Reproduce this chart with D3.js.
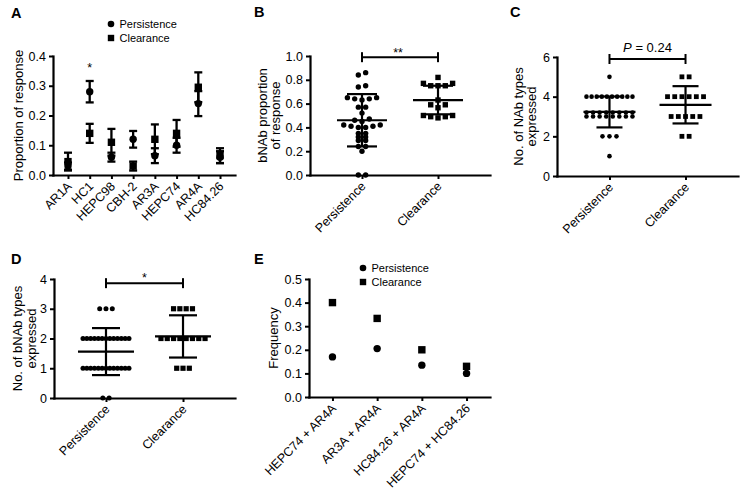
<!DOCTYPE html>
<html><head><meta charset="utf-8">
<script src="https://cdn.jsdelivr.net/npm/d3@7"></script>
<style>
body{margin:0;background:#fff}
svg text{font-family:"Liberation Sans",Arial,Helvetica,sans-serif;fill:#000}
</style>
</head><body>
<svg id="c" width="747" height="502"></svg>
<script>
// ---------- DATA ----------
// Panel A
const aEpitopes = ["AR1A","HC1","HEPC98","CBH-2","AR3A","HEPC74","AR4A","HC84.26"];
const aPersistMean = [0.03,0.28,0.06,0.12,0.065,0.10,0.24,0.06];
const aPersistErr  = [0.012,0.036,0.015,0.028,0.025,0.025,0.042,0.02];
const aClearMean   = [0.045,0.14,0.11,0.03,0.12,0.14,0.295,0.065];
const aClearErr    = [0.03,0.032,0.045,0.015,0.05,0.045,0.05,0.025];
const aSig         = ["","*","","","","","",""];
const aTicks = [0,0.1,0.2,0.3,0.4];

// Panel B
const groups = ["Persistence","Clearance"];
const bPersist = [0,0,0.20,0.24,0.24,0.29,0.29,0.32,0.32,0.35,0.35,0.40,0.41,0.42,0.40,0.42,0.41,
                  0.46,0.47,0.45,0.52,0.57,0.57,0.64,0.65,0.63,0.65,0.64,0.74,0.75,0.84,0.86];
const bClear = [0.48,0.49,0.49,0.50,0.50,0.565,0.59,0.59,0.63,0.75,0.75,0.75,0.77,0.77,0.82];
const bMean = [0.46,0.63];
const bSD = [0.22,0.12];
const bTicks = [0,0.2,0.4,0.6,0.8,1.0];
const bBracket = 0.99, bSigText = "**";

// Panel C
const cPersist = [5,4,4,4,4,4,4,4,4,4,4,3,3,3,3,3,3,3,3,3,3,3,3,3,3,3,3,2,2,2,1];
const cClear = [5,5,4,4,4,4,4,4,3,3,3,3,3,2,2];
const cMean = [3.23,3.59];
const cSD = [0.78,0.94];
const cTicks = [0,2,4,6];
const cBracket = 5.9, cPValue = "0.24";

// Panel D
const dPersist = [3,3,3,2,2,2,2,2,2,2,2,2,2,2,2,2,1,1,1,1,1,1,1,1,1,1,1,1,1,0,0];
const dClear = [3,3,3,3,2,2,2,2,2,2,2,2,1,1,1];
const dMean = [1.56,2.07];
const dSD = [0.79,0.71];
const dTicks = [0,1,2,3,4];
const dBracket = 3.86, dSigText = "*";

// Panel E
const eCombos = ["HEPC74 + AR4A","AR3A + AR4A","HC84.26 + AR4A","HEPC74 + HC84.26"];
const ePersist = [0.17,0.205,0.135,0.10];
const eClear = [0.40,0.333,0.20,0.13];
const eTicks = [0,0.1,0.2,0.3,0.4,0.5];

// ---------- HELPERS ----------
const svg = d3.select("#c");
const SW = 2.2;

function styleAxis(g){
  g.attr("font-size",null).attr("font-family",null);
  g.select(".domain").attr("stroke","#000").attr("stroke-width",SW).attr("stroke-linecap","square");
  g.selectAll(".tick line").attr("stroke","#000").attr("stroke-width",2);
  g.selectAll(".tick text").style("font-size","12.5px");
}
function drawYAxis(y, x0, ticks, fmt){
  const g = svg.append("g").attr("transform",`translate(${x0},0)`)
    .call(d3.axisLeft(y).tickValues(ticks).tickFormat(d3.format(fmt)).tickSize(4).tickPadding(3).tickSizeOuter(0));
  styleAxis(g);
}
function drawXAxis(x, y0){
  const g = svg.append("g").attr("transform",`translate(0,${y0})`)
    .call(d3.axisBottom(x).tickSize(4).tickSizeOuter(0));
  styleAxis(g);
  g.selectAll(".tick text").attr("x",0).attr("y",0).attr("dy",0)
    .attr("transform","translate(4,12) rotate(-45)").attr("text-anchor","end");
}
function yTitle(lines, xs, yc){
  lines.forEach((t,i)=>{
    svg.append("text").attr("transform",`translate(${xs[i]},${yc}) rotate(-90)`)
      .attr("text-anchor","middle").attr("dy","0.35em").style("font-size","13px").text(t);
  });
}
function panelLabel(t,x,y){
  svg.append("text").attr("x",x).attr("y",y).style("font-size","14.5px").style("font-weight","bold").text(t);
}
function circle(g,x,y,r){ g.append("circle").attr("cx",x).attr("cy",y).attr("r",r).attr("fill","#000"); }
function square(g,x,y,s){ g.append("rect").attr("x",x-s/2).attr("y",y-s/2).attr("width",s).attr("height",s).attr("fill","#000"); }
function line(g,x1,y1,x2,y2,w){ g.append("line").attr("x1",x1).attr("y1",y1).attr("x2",x2).attr("y2",y2).attr("stroke","#000").attr("stroke-width",w||SW); }

// Prism-like scatter: bin values into rows and spread horizontally
function swarm(values, y, cx, o){
  const pts = values.map(v=>({v, py:y(v)})).sort((a,b)=>a.v-b.v);
  const bins=[]; let cur=null;
  pts.forEach(p=>{ if(!cur || Math.abs(p.py-cur[0].py) > o.bin){cur=[p];bins.push(cur);} else cur.push(p); });
  const out=[];
  bins.forEach(b=>{
    const nRows = Math.ceil(b.length/o.maxRow);
    for(let r=0;r<nRows;r++){
      const sub = b.slice(Math.floor(r*b.length/nRows), Math.floor((r+1)*b.length/nRows));
      const n = sub.length;
      const s = n>1 ? Math.min(o.s0, o.W/(n-1)) : 0;
      const slots = d3.range(n).map(i=>(i-(n-1)/2)*s).sort((a,b)=>Math.abs(a)-Math.abs(b) || a-b);
      sub.forEach((p,i)=>out.push({x:cx+slots[i], y:p.py - r*o.subDy}));
    }
  });
  return out;
}
function meanSD(g, cx, y, m, sd, mh, ch){
  line(g, cx, y(m-sd), cx, y(m+sd));
  line(g, cx-ch, y(m+sd), cx+ch, y(m+sd));
  line(g, cx-ch, y(m-sd), cx+ch, y(m-sd));
  line(g, cx-mh, y(m), cx+mh, y(m));
}
function bracket(g, x1, x2, yb){
  line(g, x1, yb, x2, yb, 2);
  line(g, x1, yb-5, x1, yb+5, 2);
  line(g, x2, yb-5, x2, yb+5, 2);
}

// ---------- PANEL A ----------
{
  const x = d3.scalePoint().domain(aEpitopes).range([53,235]).padding(0.69);
  const y = d3.scaleLinear().domain([0,0.4]).range([175,56]);
  drawYAxis(y,53,aTicks,".1f");
  drawXAxis(x,175);
  const g = svg.append("g");
  aEpitopes.forEach((e,i)=>{
    const cx = x(e);
    [[aPersistMean[i],aPersistErr[i]],[aClearMean[i],aClearErr[i]]].forEach(([m,er])=>{
      line(g,cx,y(m-er),cx,y(m+er),2.3);
      line(g,cx-4,y(m-er),cx+4,y(m-er),2.3);
      line(g,cx-4,y(m+er),cx+4,y(m+er),2.3);
    });
  });
  aEpitopes.forEach((e,i)=>{
    const cx=x(e);
    circle(g,cx,y(aPersistMean[i]),3.7);
    square(g,cx,y(aClearMean[i]),7.4);
    if(aSig[i]) g.append("text").attr("x",cx).attr("y",y(aPersistMean[i]+aPersistErr[i])-8.5)
      .attr("text-anchor","middle").style("font-size","12.5px").text(aSig[i]);
  });
  yTitle(["Proportion of response"],[18],115.5);
  circle(g,111,24,3.3); g.append("text").attr("x",119.5).attr("y",28).style("font-size","11px").text(groups[0]);
  square(g,111,38,6.4); g.append("text").attr("x",119.5).attr("y",42).style("font-size","11px").text(groups[1]);
  panelLabel("A",11,17.5);
}

// ---------- PANEL B ----------
{
  const x = d3.scalePoint().domain(groups).range([310,490]).padding(0.684);
  const y = d3.scaleLinear().domain([0,1]).range([175,56]);
  drawYAxis(y,310,bTicks,".1f");
  drawXAxis(x,175);
  const g = svg.append("g");
  const o = {bin:3.3, s0:7.3, W:50, maxRow:20, subDy:0};
  swarm(bPersist,y,x(groups[0]),o).forEach(p=>circle(g,p.x,p.y,2.7));
  swarm(bClear,y,x(groups[1]),o).forEach(p=>square(g,p.x,p.y,5.4));
  groups.forEach((k,i)=>meanSD(g,x(k),y,bMean[i],bSD[i],25,15));
  bracket(g,x(groups[0]),x(groups[1]),y(bBracket));
  g.append("text").attr("x",(x(groups[0])+x(groups[1]))/2-2).attr("y",y(bBracket)-0.5)
    .attr("text-anchor","middle").style("font-size","12.5px").text(bSigText);
  yTitle(["bNAb proportion","of response"],[262,275],115.5);
  panelLabel("B",254,17);
}

// ---------- PANEL C ----------
{
  const x = d3.scalePoint().domain(groups).range([557,738]).padding(0.69);
  const y = d3.scaleLinear().domain([0,6]).range([176,57]);
  drawYAxis(y,557,cTicks,"d");
  drawXAxis(x,176);
  const g = svg.append("g");
  swarm(cPersist,y,x(groups[0]),{bin:5,s0:7,W:46,maxRow:10,subDy:4}).forEach(p=>circle(g,p.x,p.y,2.3));
  swarm(cClear,y,x(groups[1]),{bin:5,s0:7.2,W:46,maxRow:10,subDy:4}).forEach(p=>square(g,p.x,p.y,4.8));
  groups.forEach((k,i)=>meanSD(g,x(k),y,cMean[i],cSD[i],26,13));
  bracket(g,x(groups[0]),x(groups[1]),y(cBracket));
  const t = g.append("text").attr("x",(x(groups[0])+x(groups[1]))/2).attr("y",y(cBracket)-7)
    .attr("text-anchor","middle").style("font-size","13px");
  t.append("tspan").style("font-style","italic").text("P");
  t.append("tspan").text(" = " + cPValue);
  yTitle(["No. of NAb types","expressed"],[518,531],116.5);
  panelLabel("C",510,17);
}

// ---------- PANEL D ----------
{
  const x = d3.scalePoint().domain(groups).range([54,235]).padding(0.675);
  const y = d3.scaleLinear().domain([0,4]).range([398,279]);
  drawYAxis(y,54,dTicks,"d");
  drawXAxis(x,398);
  const g = svg.append("g");
  const o = {bin:5,s0:6.3,W:46,maxRow:20,subDy:0};
  swarm(dPersist,y,x(groups[0]),o).forEach(p=>circle(g,p.x,p.y,2.5));
  swarm(dClear,y,x(groups[1]),o).forEach(p=>square(g,p.x,p.y,5.2));
  groups.forEach((k,i)=>meanSD(g,x(k),y,dMean[i],dSD[i],28,14));
  bracket(g,x(groups[0]),x(groups[1]),y(dBracket));
  g.append("text").attr("x",(x(groups[0])+x(groups[1]))/2).attr("y",y(dBracket)-1)
    .attr("text-anchor","middle").style("font-size","12.5px").text(dSigText);
  yTitle(["No. of bNAb types","expressed"],[17,31],338.5);
  panelLabel("D",11,263.5);
}

// ---------- PANEL E ----------
{
  const x = d3.scalePoint().domain(eCombos).range([309,490]).padding(0.525);
  const y = d3.scaleLinear().domain([0,0.5]).range([397,279]);
  drawYAxis(y,309,eTicks,".1f");
  drawXAxis(x,397);
  const g = svg.append("g");
  eCombos.forEach((k,i)=>{
    circle(g,x(k),y(ePersist[i]),3.7);
    square(g,x(k),y(eClear[i]),7.4);
  });
  yTitle(["Frequency"],[273],338);
  circle(g,363,268,3.3); g.append("text").attr("x",371.5).attr("y",272).style("font-size","11px").text(groups[0]);
  square(g,363,282,6.4); g.append("text").attr("x",371.5).attr("y",286).style("font-size","11px").text(groups[1]);
  panelLabel("E",254,263.5);
}
</script>
</body></html>
